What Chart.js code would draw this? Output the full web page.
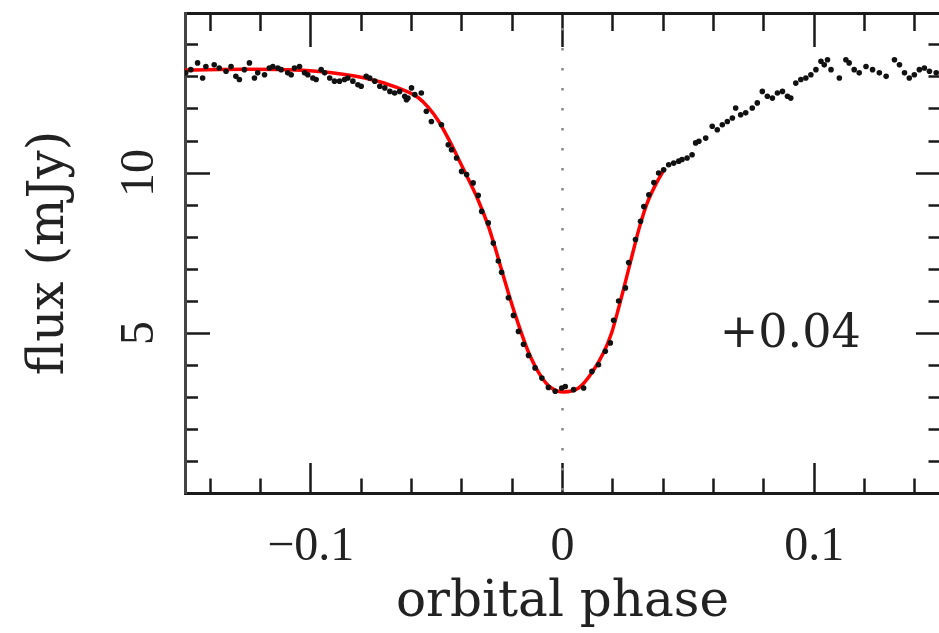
<!DOCTYPE html>
<html>
<head>
<meta charset="utf-8">
<script src="https://cdn.jsdelivr.net/npm/chart.js@4.4.1/dist/chart.umd.min.js"></script>
<style>
  html, body { margin: 0; padding: 0; background: #fff; overflow: hidden; }
  #wrap { position: absolute; left: 0; top: 0; width: 960px; height: 633px; }
</style>
</head>
<body>
<div id="wrap"><canvas id="lcChart" width="960" height="633"></canvas></div>
<script>
// eclipse light curve: observed fluxes (black) and model fit (red)
const obsPhase = [
  -0.1497, -0.1477, -0.1450, -0.1430, -0.1417, -0.1384, -0.1364, -0.1337, -0.1317, -0.1298,
  -0.1284, -0.1264, -0.1244, -0.1224, -0.1211, -0.1184, -0.1165, -0.1151, -0.1131, -0.1118,
  -0.1092, -0.1078, -0.1065, -0.1045, -0.1025, -0.1012, -0.0992, -0.0979, -0.0959, -0.0945,
  -0.0925, -0.0906, -0.0886, -0.0866, -0.0853, -0.0833, -0.0813, -0.0800, -0.0780, -0.0766,
  -0.0746, -0.0726, -0.0706, -0.0686, -0.0667, -0.0647, -0.0627, -0.0620, -0.0614, -0.0600,
  -0.0587, -0.0561, -0.0541, -0.0521, -0.0481, -0.0454, -0.0441, -0.0421, -0.0401, -0.0381,
  -0.0355, -0.0335, -0.0321, -0.0295, -0.0275, -0.0255, -0.0242, -0.0215, -0.0195, -0.0175,
  -0.0155, -0.0135, -0.0109, -0.0082, -0.0056, -0.0029, -0.0003, 0.0011, 0.0044, 0.0084,
  0.0117, 0.0143, 0.0170, 0.0190, 0.0203, 0.0223, 0.0250, 0.0263, 0.0290, 0.0310,
  0.0323, 0.0343, 0.0363, 0.0382, 0.0402, 0.0422, 0.0442, 0.0462, 0.0475, 0.0495,
  0.0515, 0.0529, 0.0542, 0.0569, 0.0595, 0.0615, 0.0635, 0.0655, 0.0675, 0.0688,
  0.0708, 0.0728, 0.0754, 0.0774, 0.0794, 0.0814, 0.0834, 0.0854, 0.0874, 0.0894,
  0.0907, 0.0927, 0.0947, 0.0967, 0.0987, 0.1007, 0.1027, 0.1040, 0.1053, 0.1067,
  0.1100, 0.1126, 0.1139, 0.1159, 0.1179, 0.1206, 0.1232, 0.1259, 0.1286, 0.1319,
  0.1339, 0.1359, 0.1378, 0.1398, 0.1418, 0.1438, 0.1458, 0.1485
];
const obsFlux = [
  13.13, 13.23, 13.44, 12.97, 13.33, 13.38, 13.28, 13.18, 13.33, 13.02,
  12.92, 13.23, 13.44, 12.97, 13.13, 13.07, 13.28, 13.33, 13.28, 13.23,
  13.13, 13.07, 13.28, 13.33, 13.13, 13.07, 12.97, 12.92, 13.23, 13.13,
  12.97, 12.87, 12.87, 12.92, 12.97, 12.87, 12.76, 12.71, 13.02, 12.97,
  12.87, 12.71, 12.66, 12.55, 12.50, 12.55, 12.40, 12.29, 12.34, 12.66,
  12.45, 12.50, 11.93, 11.61, 11.51, 10.88, 10.73, 10.47, 10.05, 9.95,
  9.69, 9.30, 8.80, 8.44, 7.81, 7.25, 6.90, 6.10, 5.55, 5.05,
  4.65, 4.30, 3.91, 3.59, 3.30, 3.18, 3.28, 3.33, 3.23, 3.28,
  3.80, 4.01, 4.43, 4.69, 5.40, 6.00, 6.41, 7.20, 7.92, 8.49,
  8.95, 9.32, 9.70, 10.00, 10.10, 10.26, 10.31, 10.37, 10.42, 10.47,
  10.57, 10.94, 10.99, 11.09, 11.46, 11.35, 11.51, 11.61, 11.72, 12.03,
  11.82, 11.88, 12.03, 12.19, 12.55, 12.40, 12.34, 12.50, 12.55, 12.40,
  12.34, 12.81, 12.92, 12.97, 13.07, 13.23, 13.49, 13.38, 13.54, 13.23,
  12.97, 13.54, 13.44, 13.23, 13.13, 13.33, 13.23, 13.13, 13.02, 13.54,
  13.38, 13.13, 12.97, 13.07, 13.23, 13.28, 13.18, 13.13
];

const fitPhase = [
  -0.150, -0.125, -0.098, -0.0785, -0.0653, -0.0574, -0.0534, -0.0494, -0.0454, -0.0422,
  -0.0386, -0.0335, -0.0295, -0.0267, -0.0243, -0.0215, -0.0187, -0.0135, -0.0084, -0.0044,
  0.0004, 0.0064, 0.0116, 0.0163, 0.0195, 0.0223, 0.0251, 0.0279, 0.0307, 0.0335,
  0.0367, 0.0402
];
const fitFlux = [
  13.22, 13.24, 13.18, 12.97, 12.66, 12.36, 12.06, 11.64, 11.08, 10.58,
  10.00, 9.15, 8.35, 7.65, 7.00, 6.25, 5.55, 4.40, 3.63, 3.28,
  3.16, 3.28, 3.75, 4.38, 5.00, 5.78, 6.63, 7.50, 8.34, 9.03,
  9.59, 10.09
];

// mid-eclipse marker
const zeroPhase = [0, 0];
const zeroFlux = [15, 0];

// axes
const xMin = -0.15, xMax = 0.15;
const yMin = 0, yMax = 15;
const xTickValues = [-0.14, -0.12, -0.1, -0.08, -0.06, -0.04, -0.02, 0, 0.02, 0.04, 0.06, 0.08, 0.1, 0.12, 0.14];
const xMajorValues = [-0.1, 0, 0.1];
const xTickLabels = ['\u22120.1', '0', '0.1'];
const yTickValues = [1, 2, 3, 4, 5, 6, 7, 8, 9, 10, 11, 12, 13, 14];
const yMajorValues = [5, 10];
const yTickLabels = ['5', '10'];

const annText = '+0.04';
const annPhase = 0.0905, annFlux = 4.95;

const toXY = (xs, ys) => xs.map((v, i) => ({ x: v, y: ys[i] }));
const isMajor = (v, majors) => majors.some(m => Math.abs(m - v) < 1e-9);

const tickFont = { family: '"Liberation Serif", serif', size: 48 };
const titleFont = { family: '"DejaVu Serif", serif', size: 50 };
const ink = '#1a1a1a';

// fixed box sizes so the plot frame sits where the original one does
function fixBox(w, h) {
  return s => {
    if (w !== null) s.width = w;
    if (h !== null) s.height = h;
    s.paddingLeft = s.paddingRight = s.paddingTop = s.paddingBottom = 0;
  };
}

// helper so each side gets inward ticks, long for majors and short for minors
function sideScale(axis, position, majors, values, longLen, minorDash, extra) {
  return Object.assign({
    type: 'linear',
    axis: axis,
    position: position,
    min: axis === 'x' ? xMin : yMin,
    max: axis === 'x' ? xMax : yMax,
    afterBuildTicks: s => { s.ticks = values.map(v => ({ value: v })); },
    ticks: { display: false, autoSkip: false },
    grid: {
      drawOnChartArea: false,
      drawTicks: true,
      tickLength: -longLen,
      tickWidth: 2.5,
      tickColor: ink,
      tickBorderDash: c => isMajor(c.tick.value, majors) ? [] : minorDash
    },
    border: { display: true, color: ink, width: 3 }
  }, extra);
}

const labelPlugin = {
  id: 'phaseLabel',
  afterDatasetsDraw(chart) {
    const { ctx, scales } = chart;
    ctx.save();
    ctx.font = '46px "DejaVu Serif", serif';
    ctx.fillStyle = '#222';
    ctx.textAlign = 'center';
    ctx.textBaseline = 'middle';
    ctx.fillText(annText, scales.x.getPixelForValue(annPhase), scales.y.getPixelForValue(annFlux));
    ctx.restore();
  }
};

new Chart(document.getElementById('lcChart'), {
  type: 'scatter',
  data: {
    datasets: [
      {
        label: 'observed',
        data: toXY(obsPhase, obsFlux),
        pointRadius: 2.8,
        pointBackgroundColor: '#111',
        pointBorderWidth: 0,
        order: 0
      },
      {
        label: 'fit',
        data: toXY(fitPhase, fitFlux),
        showLine: true,
        borderColor: '#ff0000',
        borderWidth: 3.5,
        pointRadius: 0,
        cubicInterpolationMode: 'monotone',
        order: 1
      },
      {
        label: 'phase 0',
        data: toXY(zeroPhase, zeroFlux),
        showLine: true,
        borderColor: '#888',
        borderWidth: 2.5,
        borderDash: [2.5, 17.5],
        borderDashOffset: 5,
        pointRadius: 0,
        order: 2
      }
    ]
  },
  options: {
    responsive: false,
    animation: false,
    events: [],
    layout: { padding: 0 },
    plugins: { legend: { display: false }, tooltip: { enabled: false } },
    scales: {
      x: sideScale('x', 'bottom', xMajorValues, xTickValues, 30, [16.5, 100], {
        afterFit: fixBox(null, 140),
        ticks: {
          display: true, autoSkip: false, minRotation: 0, maxRotation: 0,
          padding: 56, color: '#222', font: tickFont,
          callback: v => {
            const i = xMajorValues.findIndex(m => Math.abs(m - v) < 1e-9);
            return i < 0 ? '' : xTickLabels[i];
          }
        },
        title: { display: true, text: 'orbital phase', color: '#222', font: titleFont, padding: { top: 0, bottom: 0 } }
      }),
      x2: sideScale('x', 'top', xMajorValues, xTickValues, 34, [0, 16, 20, 100], {
        afterFit: fixBox(null, 13)
      }),
      y: sideScale('y', 'left', yMajorValues, yTickValues, 25, [0, 12, 15, 100], {
        afterFit: fixBox(185, null),
        ticks: {
          display: true, autoSkip: false, minRotation: 90, maxRotation: 90,
          crossAlign: 'center', padding: 46, color: '#222', font: tickFont,
          callback: v => {
            const i = yMajorValues.findIndex(m => Math.abs(m - v) < 1e-9);
            return i < 0 ? '' : yTickLabels[i];
          }
        },
        title: { display: true, text: 'flux (mJy)', color: '#222', font: titleFont, padding: { top: 20, bottom: 0 } },
        border: { display: true, color: '#444', width: 3 }
      }),
      y2: sideScale('y', 'right', yMajorValues, yTickValues, 24, [13.5, 100], {
        afterFit: fixBox(20, null)
      })
    }
  },
  plugins: [labelPlugin]
});
</script>
</body>
</html>
